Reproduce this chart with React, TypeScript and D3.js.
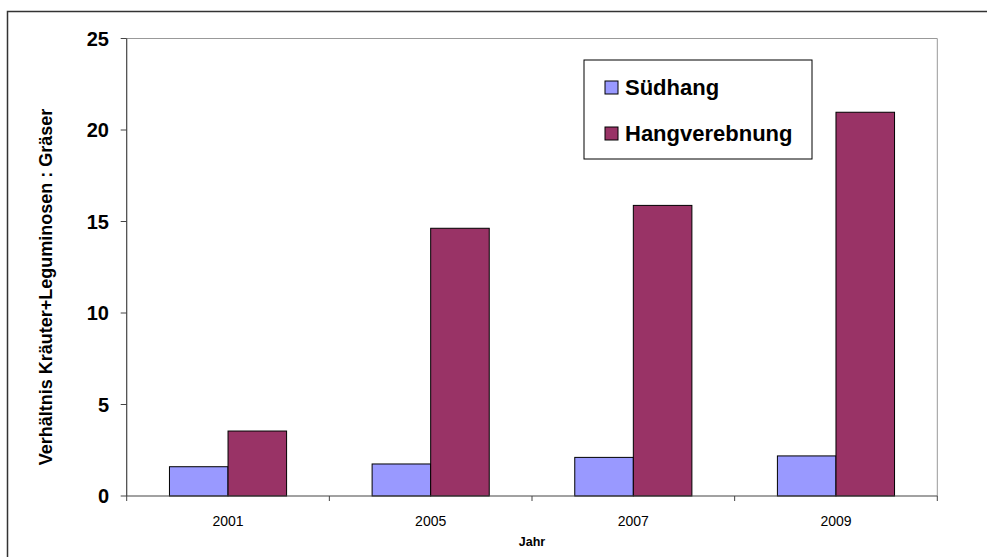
import React from "react";
import * as d3 from "d3";

const categories = ["2001", "2005", "2007", "2009"];
const seriesNames = ["Südhang", "Hangverebnung"];
const suedhang = [1.6, 1.75, 2.11, 2.19];
const hangverebnung = [3.55, 14.63, 15.88, 20.97];
const yTicks = [0, 5, 10, 15, 20, 25];
const colors = ["#9999FF", "#993366"];

const W = 987, H = 557;
const left = 126.7, right = 937.3, top = 38.5, bottom = 496;
const font = "'Liberation Sans', Arial, sans-serif";

export default function App() {
  const x = d3.scaleBand<string>().domain(categories).range([left, right]).paddingInner(0).paddingOuter(0);
  const y = d3.scaleLinear().domain([0, 25]).range([bottom, top]);
  const groupW = x.bandwidth() * 0.578;
  const x1 = d3.scaleBand<string>().domain(seriesNames).range([0, groupW]);
  const series = [suedhang, hangverebnung];
  const boundaries = [left, ...categories.map((c) => (x(c) as number) + x.bandwidth())];

  return (
    <svg width={W} height={H} style={{ position: "absolute", left: 0, top: 0, fontFamily: font }}>
      <rect x={0} y={0} width={W} height={H} fill="#fff" />
      <path d={`M7.5,${H} V11.5 H${W}`} fill="none" stroke="#333" strokeWidth={1.5} />
      {/* plot border */}
      <path d={`M${left},${top} H${right} V${bottom}`} fill="none" stroke="#999" strokeWidth={1} />
      {/* bars */}
      {categories.map((c, i) => {
        const gx = (x(c) as number) + (x.bandwidth() - groupW) / 2;
        return series.map((s, j) => (
          <rect
            key={c + j}
            x={gx + (x1(seriesNames[j]) as number)}
            y={y(s[i])}
            width={x1.bandwidth()}
            height={bottom - y(s[i])}
            fill={colors[j]}
            stroke="#000"
            strokeWidth={1}
          />
        ));
      })}
      {/* y axis */}
      <line x1={left} x2={left} y1={top} y2={bottom} stroke="#444" strokeWidth={1.2} />
      {yTicks.map((t) => (
        <g key={t}>
          <line x1={left - 6} x2={left} y1={y(t)} y2={y(t)} stroke="#444" />
          <text x={109} y={y(t)} dy="0.36em" textAnchor="end" fontSize={20} fontWeight="bold" fill="#000">
            {t}
          </text>
        </g>
      ))}
      {/* x axis */}
      <line x1={left} x2={right} y1={bottom} y2={bottom} stroke="#444" strokeWidth={1.2} />
      {boundaries.map((b, i) => (
        <line key={i} x1={b} x2={b} y1={bottom} y2={bottom + 5} stroke="#444" />
      ))}
      {categories.map((c) => (
        <text key={c} x={(x(c) as number) + x.bandwidth() / 2} y={526} textAnchor="middle" fontSize={14} fill="#000">
          {c}
        </text>
      ))}
      <text x={(left + right) / 2} y={546} textAnchor="middle" fontSize={12.5} fontWeight="bold" fill="#000">
        Jahr
      </text>
      <text
        transform={`translate(52,287) rotate(-90)`}
        textAnchor="middle"
        fontSize={18}
        fontWeight="bold"
        fill="#000"
      >
        Verhältnis Kräuter+Leguminosen : Gräser
      </text>
      {/* legend */}
      <rect x={584} y={60} width={228} height={99} fill="#fff" stroke="#000" strokeWidth={1} />
      {seriesNames.map((n, j) => (
        <g key={n}>
          <rect x={605} y={81 + j * 46} width={13} height={13} fill={colors[j]} stroke="#000" strokeWidth={1} />
          <text x={625} y={87.5 + j * 46} dy="0.36em" fontSize={22} fontWeight="bold" fill="#000">
            {n}
          </text>
        </g>
      ))}
    </svg>
  );
}
